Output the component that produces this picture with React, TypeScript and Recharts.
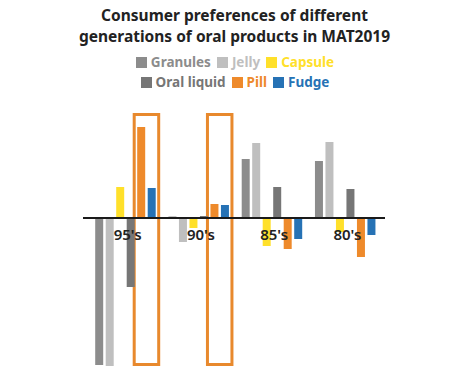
import React from 'react';
import { BarChart, Bar, XAxis, YAxis, ReferenceLine, ReferenceArea, Legend } from 'recharts';

const generations = ["95's", "90's", "85's", "80's"];
const granules = [-147, 1.5, 59, 57];
const jelly = [-148, -24, 75, 76];
const capsule = [31, -10, -28, -14];
const oralLiquid = [-69, 2, 31, 29];
const pill = [91, 14, -31, -39];
const fudge = [30, 13, -21, -17];
const highlighted = ["95's", "90's"];
const highlightRange = [-146.5, 103.5];
const Y_DOMAIN = [-152, 108];

const SERIES = [
  { key: 'Granules', values: granules, color: '#8c8c8c' },
  { key: 'Jelly', values: jelly, color: '#bfbfbf' },
  { key: 'Capsule', values: capsule, color: '#ffe02a' },
  { key: 'Oral liquid', values: oralLiquid, color: '#767676' },
  { key: 'Pill', values: pill, color: '#ee8a2b' },
  { key: 'Fudge', values: fudge, color: '#2672b5' },
];
const ORDER = SERIES.map((s) => s.key);

const data = generations.map((g, i) => {
  const row: Record<string, string | number> = { name: g };
  SERIES.forEach((s) => {
    row[s.key] = s.values[i];
  });
  return row;
});

const W = 459;
const H = 385;
const MARGIN = { top: 110, right: 74, bottom: 14, left: 83 };
const CAT_GAP = 6.2;
const BAR_GAP = 2.5;
const PLOT_H = H - MARGIN.top - MARGIN.bottom - 1;
const ZERO_Y = MARGIN.top + (PLOT_H * Y_DOMAIN[1]) / (Y_DOMAIN[1] - Y_DOMAIN[0]);

const renderTick = (props: any) => (
  <text
    x={props.x + 2}
    y={ZERO_Y + 22}
    textAnchor="middle"
    fontSize={15}
    fontWeight={600}
    fill="#222"
    fontFamily="'Noto Sans', sans-serif"
  >
    {props.payload.value}
  </text>
);

// box around the Pill and Fudge bars of a group
const HighlightBox = (props: any) => {
  const n = SERIES.length;
  const size = Math.floor((props.width - 2 * CAT_GAP - (n - 1) * BAR_GAP) / n);
  const left = props.x + CAT_GAP + 4 * (size + BAR_GAP) - 3;
  const right = props.x + CAT_GAP + n * size + (n - 1) * BAR_GAP + 3;
  return (
    <rect
      x={left}
      y={props.y}
      width={right - left}
      height={props.height}
      fill="none"
      stroke="#e8892d"
      strokeWidth={3}
    />
  );
};

const LegendContent = (props: any) => {
  const items = [...(props.payload || [])].sort(
    (a: any, b: any) => ORDER.indexOf(a.value) - ORDER.indexOf(b.value)
  );
  return (
    <div
      style={{
        display: 'flex',
        flexWrap: 'wrap',
        justifyContent: 'center',
        columnGap: 6,
        rowGap: 2,
        fontFamily: "'Noto Sans', sans-serif",
        fontSize: 13.5,
        fontWeight: 700,
        lineHeight: '18px',
      }}
    >
      {items.map((p: any) => (
        <span key={p.value} style={{ color: p.color, display: 'inline-flex', alignItems: 'center' }}>
          <span style={{ width: 11, height: 11, background: p.color, marginRight: 4, display: 'inline-block' }} />
          {p.value}
        </span>
      ))}
    </div>
  );
};

export default function App() {
  return (
    <div style={{ position: 'fixed', left: 0, top: 0, width: W, height: H, background: '#fff' }}>
      <div
        style={{
          position: 'absolute',
          top: 5,
          left: 5,
          width: W,
          textAlign: 'center',
          fontFamily: "'Noto Sans', sans-serif",
          fontWeight: 700,
          fontSize: 15.5,
          lineHeight: '21px',
          color: '#222',
        }}
      >
        Consumer preferences of different
        <br />
        generations of oral products in MAT2019
      </div>
      <BarChart
        width={W}
        height={H}
        data={data}
        margin={MARGIN}
        barCategoryGap={CAT_GAP}
        barGap={BAR_GAP}
      >
        <XAxis
          dataKey="name"
          height={1}
          axisLine={false}
          tickLine={false}
          tick={renderTick}
          interval={0}
          padding={{ left: 6, right: 3 }}
        />
        <YAxis hide domain={Y_DOMAIN} type="number" />
        <Legend
          layout="horizontal"
          verticalAlign="middle"
          align="center"
          wrapperStyle={{ top: 53, left: 120, width: 230 }}
          content={<LegendContent />}
        />
        {SERIES.map((s) => (
          <Bar key={s.key} dataKey={s.key} fill={s.color} isAnimationActive={false} />
        ))}
        <ReferenceLine y={0} stroke="#1a1a1a" strokeWidth={2} />
        {highlighted.map((g) => (
          <ReferenceArea
            key={g}
            x1={g}
            x2={g}
            y1={highlightRange[0]}
            y2={highlightRange[1]}
            shape={<HighlightBox />}
          />
        ))}
      </BarChart>
    </div>
  );
}
